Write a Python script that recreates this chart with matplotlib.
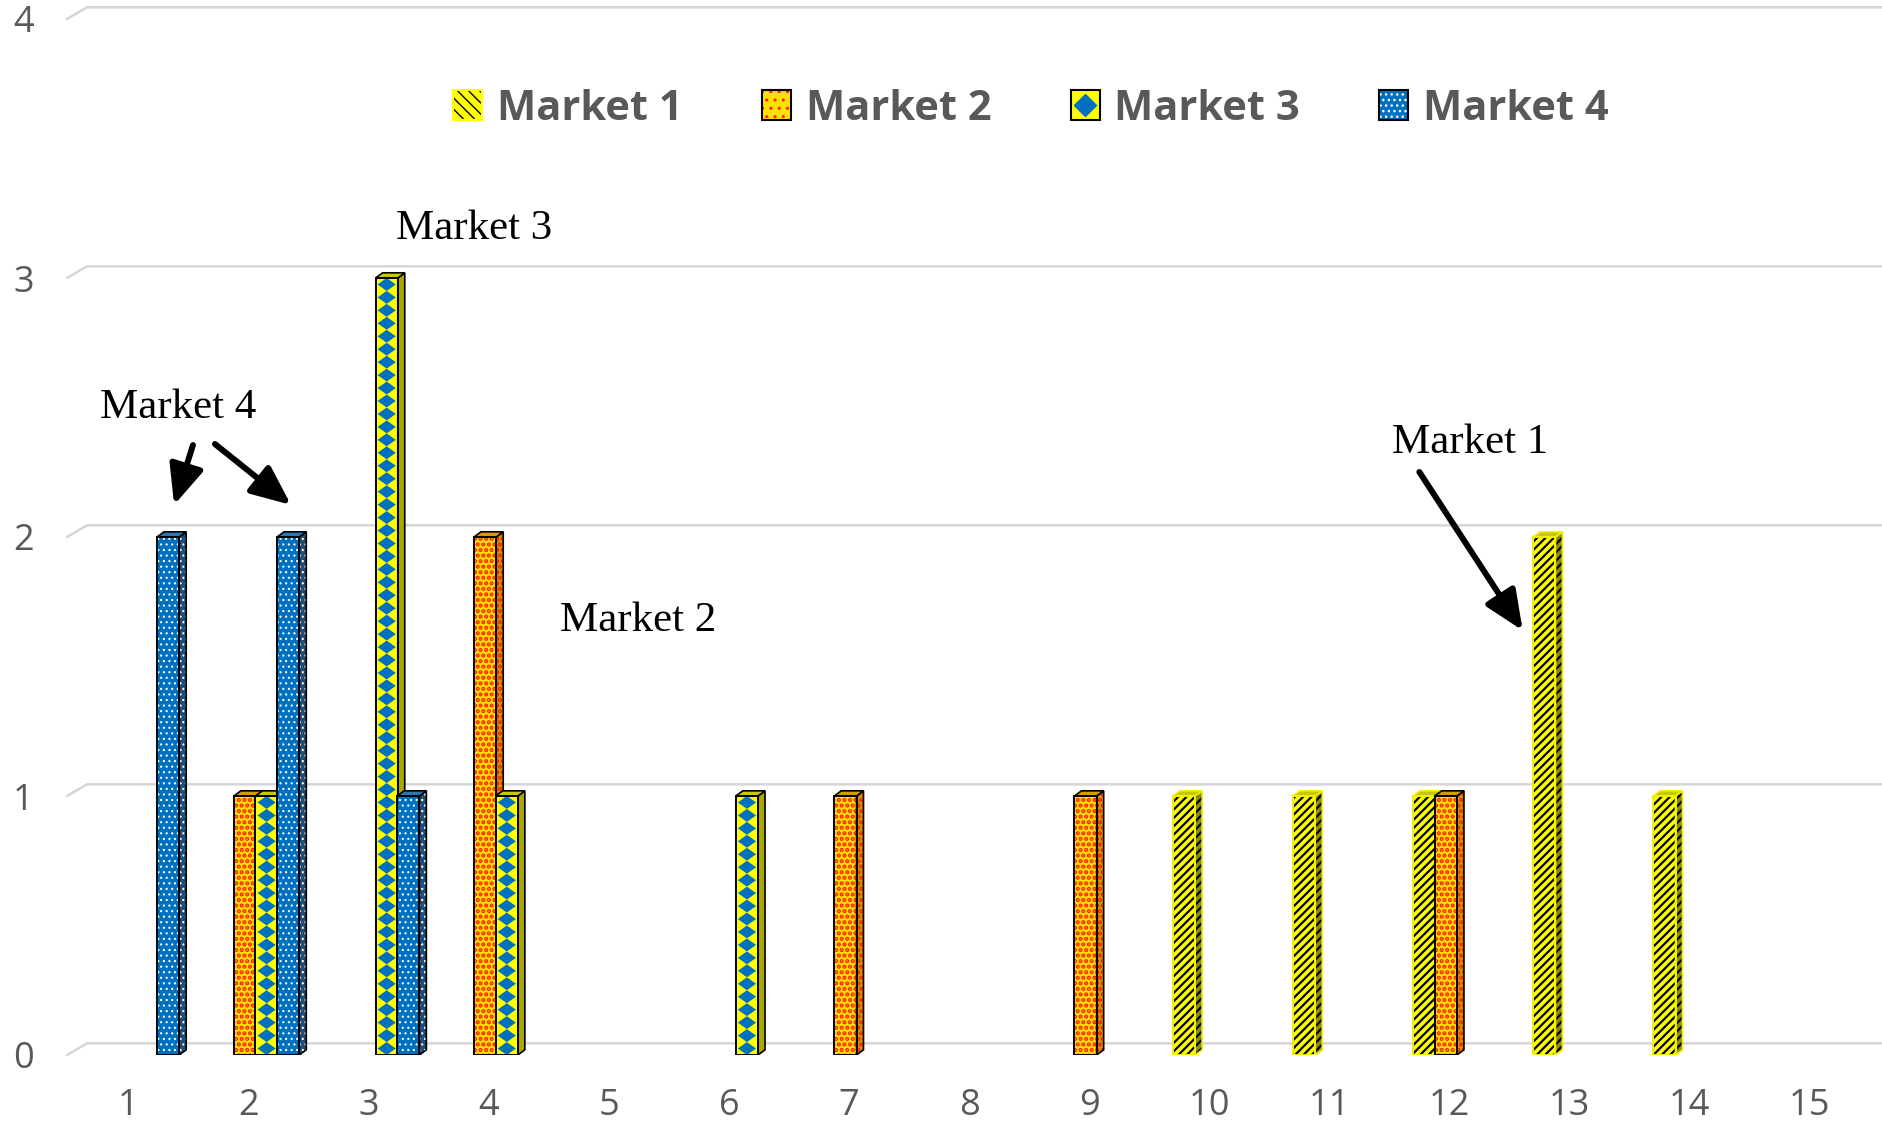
import matplotlib
matplotlib.use("Agg")
import matplotlib.pyplot as plt
from matplotlib.patches import Patch, Polygon
from matplotlib.lines import Line2D
from matplotlib.legend_handler import HandlerTuple

# data
categories = list(range(1, 16))
series_names = ["Market 1", "Market 2", "Market 3", "Market 4"]
market1 = [0, 0, 0, 0, 0, 0, 0, 0, 0, 1, 1, 1, 2, 1, 0]
market2 = [0, 1, 0, 2, 0, 0, 1, 0, 1, 0, 0, 1, 0, 0, 0]
market3 = [0, 1, 3, 1, 0, 1, 0, 0, 0, 0, 0, 0, 0, 0, 0]
market4 = [2, 2, 1, 0, 0, 0, 0, 0, 0, 0, 0, 0, 0, 0, 0]
y_ticks = [0, 1, 2, 3, 4]

W = 0.185          # bar width
DX, DY = 0.058, 0.02   # bar depth
GDX, GDY = 0.1665, 0.045  # back wall offset for gridlines
offsets = [-0.21, -0.03, 0.15, 0.33]

styles = [
    dict(face="#FFFF00", hatch="////", hcol="black", edge="#F0F000", side="#8C8C00",
         top="#C8C800", hlw=1.6),
    dict(face="#FFE000", hatch="...", hcol="#FF1A00", edge="black", side="#D09800",
         top="#D89A00", hlw=2.1),
    dict(face="#FFFF00", hatch=None, hcol="#FFFF00", edge="black", side="#A8A800",
         top="#C8C800", hlw=1.0),
    dict(face="#0070C0", hatch="...", hcol="white", edge="black", side="#1F4E79",
         top="#2E75B6", hlw=0.8),
]

fig = plt.figure(figsize=(18.83, 11.24), dpi=100)
ax = fig.add_axes([67 / 1883, 1 - 1055 / 1124, 1816 / 1883, 1036 / 1124])
ax.set_xlim(0.488, 15.61)
ax.set_ylim(0, 4)

# back wall gridlines with the little slanted floor edge
x0 = ax.get_xlim()[0]
for v in y_ticks:
    ax.plot([x0, x0 + GDX, ax.get_xlim()[1]], [v, v + GDY, v + GDY],
            color="#D6D6D6", lw=1.8, zorder=1, clip_on=False, solid_capstyle="round")


def draw_series(i, values):
    st = styles[i]
    xs = [c + offsets[i] for c, v in zip(categories, values) if v > 0]
    hs = [v for v in values if v > 0]
    z = 3 + i
    with plt.rc_context({"hatch.linewidth": st["hlw"]}):
        ax.bar(xs, hs, width=W, color=st["face"], edgecolor=st["hcol"], lw=0,
               hatch=st["hatch"], zorder=z)
        for x, h in zip(xs, hs):
            r = x + W / 2
            l = x - W / 2
            side = Polygon([(r, 0), (r + DX, DY), (r + DX, h + DY), (r, h)],
                           facecolor=st["side"], edgecolor=st["hcol"], lw=0,
                           hatch=st["hatch"], zorder=z)
            ax.add_patch(side)
            ax.add_patch(Polygon([(r, 0), (r + DX, DY), (r + DX, h + DY), (r, h)],
                                 fill=False, edgecolor=st["edge"], lw=1.2, zorder=z + 0.2))
            ax.add_patch(Polygon([(l, h), (l + DX, h + DY), (r + DX, h + DY), (r, h)],
                                 facecolor=st["top"], edgecolor=st["edge"], lw=1.2, zorder=z + 0.2))
            if i == 2:
                # column of blue diamonds
                step = 0.05
                n = int(round(h / step))
                for k in range(n):
                    yc = (k + 0.5) * h / n
                    hh = h / n / 2
                    hw = W / 2 * 0.82
                    ax.add_patch(Polygon([(x, yc - hh), (x + hw, yc), (x, yc + hh), (x - hw, yc)],
                                         facecolor="#0070C0", lw=0, zorder=z + 0.1))
    ax.bar(xs, hs, width=W, fill=False, edgecolor=st["edge"], lw=1.4, zorder=z + 0.2)


for i, vals in enumerate([market1, market2, market3, market4]):
    draw_series(i, vals)

ax.set_xticks(categories)
ax.set_yticks(y_ticks)
ax.tick_params(length=0, labelsize=26, labelcolor="#595959")
ax.tick_params(axis="y", pad=24)
ax.tick_params(axis="x", pad=24)
for lab in ax.get_xticklabels() + ax.get_yticklabels():
    lab.set_family("Open Sans")
for s in ax.spines.values():
    s.set_visible(False)

# annotations
serif = dict(family="Liberation Serif", fontsize=31, color="black", va="center", ha="left")
ax.text(0.763, 2.50, "Market 4", **serif)
ax.text(3.227, 3.19, "Market 3", **serif)
ax.text(4.590, 1.676, "Market 2", **serif)
ax.text(11.519, 2.363, "Market 1", **serif)

arrow = dict(arrowstyle="-|>,head_length=1.6,head_width=0.7", lw=4.3, color="black",
             mutation_scale=15, shrinkA=0, shrinkB=0)
ax.annotate("", xy=(1.380, 2.124), xytext=(1.537, 2.355), arrowprops=arrow)
ax.annotate("", xy=(2.353, 2.124), xytext=(1.720, 2.359), arrowprops=arrow)
ax.annotate("", xy=(12.610, 1.639), xytext=(11.749, 2.251), arrowprops=arrow)

# legend
with plt.rc_context({"hatch.linewidth": 1.8}):
    handles = [
        (Patch(facecolor="#FFFF00", edgecolor="black", hatch="\\\\\\", lw=0),
         Patch(fill=False, edgecolor="#FFFF00", lw=1.5)),
        (Patch(facecolor="#FFE000", edgecolor="#FF1A00", hatch="..", lw=0),
         Patch(fill=False, edgecolor="black", lw=1.5)),
        (Patch(facecolor="#FFFF00", lw=0),
         Line2D([], [], marker="D", color="#0070C0", ls="", markersize=11),
         Patch(fill=False, edgecolor="black", lw=1.5)),
        (Patch(facecolor="#0070C0", edgecolor="white", hatch="...", lw=0),
         Patch(fill=False, edgecolor="black", lw=1.5)),
    ]
fig.legend(handles, series_names, loc="center", bbox_to_anchor=(0.5475, 0.903), ncol=4,
           frameon=False, handler_map={tuple: HandlerTuple(ndivide=1, pad=0)},
           prop=dict(family="Open Sans", weight="bold", size=30), labelcolor="#595959",
           handlelength=0.7, handleheight=0.7, handletextpad=0.35, columnspacing=1.9)

fig.savefig("out.png", dpi=100)
